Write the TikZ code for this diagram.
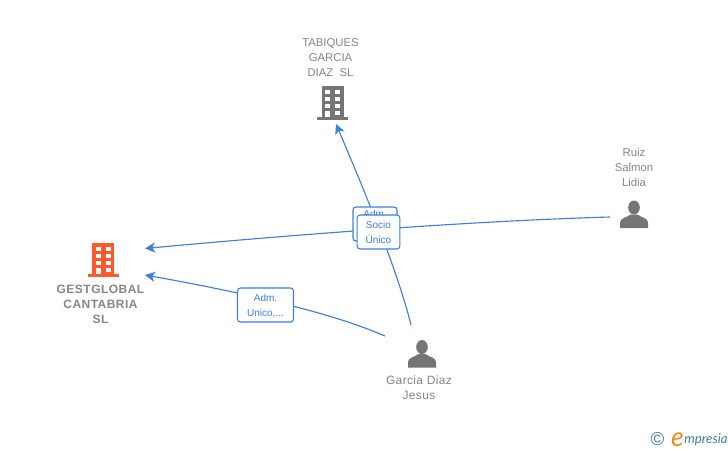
\documentclass[tikz,border=0pt]{standalone}
\usepackage{fontspec}
\setmainfont{Liberation Sans}
\newfontfamily\logofont{Lato}
\usetikzlibrary{arrows.meta}
\definecolor{linkblue}{HTML}{3D7FDC}
\definecolor{labelgray}{HTML}{858585}
\definecolor{icongray}{HTML}{757575}
\definecolor{orangered}{HTML}{FF5A2C}
\definecolor{logoteal}{HTML}{3E7F96}
\definecolor{logoorange}{HTML}{F08A1D}
\newcommand{\tagline}[1]{\vphantom{Ag}\smash{\raisebox{-1.5pt}{#1}}}
\tikzset{
  entity/.style={text=labelgray,font=\fontsize{8.5pt}{11.25pt}\selectfont,align=center,inner sep=0pt},
  entitywide/.style={entity,font=\addfontfeatures{LetterSpace=3}\fontsize{9pt}{11.25pt}\selectfont},
  entitybold/.style={entity,font=\bfseries\addfontfeatures{LetterSpace=4}\fontsize{9pt}{11.25pt}\selectfont},
  link/.style={draw=linkblue,line width=0.85pt,-{Stealth[length=7.5pt,width=7.5pt,inset=2pt]}},
  tag/.style={draw=linkblue,fill=white,line width=0.8pt,rounded corners=2.2pt,text=linkblue,
    font=\fontsize{7.5pt}{11.25pt}\selectfont,align=center,inner sep=0pt,minimum width=42pt,minimum height=25.5pt},
  pics/building/.style={code={
    \fill[#1] (-11,-15.5) rectangle (11,15.5);
    \fill[#1] (-15.5,15.5) rectangle (15.5,18.5);
    \foreach \yy/\hh in {-11.8/-7.2,-4.5/-0.2,2.2/6.5}{
      \fill[white] (-7.3,\yy) rectangle (-2.3,\hh);
      \fill[white] (2.7,\yy) rectangle (7.7,\hh);
    }
    \fill[white] (-7.3,9) rectangle (-2.3,15.5);
    \fill[white] (2.7,9) rectangle (7.7,13);
  }},
  pics/person/.style={code={
    \fill[icongray] (0,-7) ellipse (5.8 and 7);
    \fill[icongray] (-14,13.5) -- (-14,8) .. controls (-14,3.5) and (-7,3) .. (-3.5,0) -- (3.5,0)
      .. controls (7,3) and (14,3.5) .. (14,8) -- (14,13.5) -- cycle;
  }}
}
\begin{document}
\begin{tikzpicture}[x=0.75pt,y=-0.75pt]
\useasboundingbox (0,0) rectangle (728,450);
% entity labels
\node[entity] (tabiques) at (330.5,57.5) {TABIQUES\\GARCIA\\DIAZ\ \ SL};
\node[entitybold] (gest) at (100.5,304.5) {GESTGLOBAL\\CANTABRIA\\SL};
\node[entity] (ruiz) at (634,167.5) {Ruiz\\Salmon\\Lidia};
\node[entitywide] (garcia) at (419,388) {Garcia Diaz\\Jesus};
% icons
\pic at (332.5,101.5) {building=icongray};
\pic at (103,258.5) {building=orangered};
\pic at (634,214.5) {person};
\pic at (422,354) {person};
% connector ends
\coordinate (tabIn) at (336,124);
\coordinate (gestInA) at (145,248.5);
\coordinate (gestInB) at (145,275);
\coordinate (ruizOut) at (610,217);
\coordinate (garciaOutA) at (411,325);
\coordinate (garciaOutB) at (385,336);
% connectors
\draw[link] (garciaOutA) .. controls (398,272) and (365,192) .. (tabIn);
\draw[link] (ruizOut) .. controls (470,221) and (290,235) .. (gestInA);
\draw[link] (garciaOutB) .. controls (330,312) and (240,292) .. (gestInB);
% connector labels
\node[tag,minimum width=33pt] (tagBack) at (375,224) {};
\node[text=linkblue,font=\fontsize{7.5pt}{8pt}\selectfont,inner sep=0pt] (tagBackText) at (375,213.5) {Adm.};
\node[tag,minimum width=32pt] (tagSocio) at (378.5,232) {\tagline{Socio}\\\tagline{Único}};
\node[tag] (tagAdm) at (265.5,305) {\tagline{Adm.}\\\tagline{Unico,...}};
% logo
\node[text=logoteal,font=\fontsize{14pt}{14pt}\selectfont,inner sep=0pt] (copy) at (657.5,439) {©};
\node[text=logoorange,font=\logofont\itshape\fontsize{20pt}{20pt}\selectfont,inner sep=0pt] (logoE) at (677.5,440) {e};
\node[text=logoteal,font=\logofont\itshape\fontsize{10pt}{10pt}\selectfont,inner sep=0pt,anchor=west] (logoText) at (684,439.5) {mpresia};
\end{tikzpicture}
\end{document}
